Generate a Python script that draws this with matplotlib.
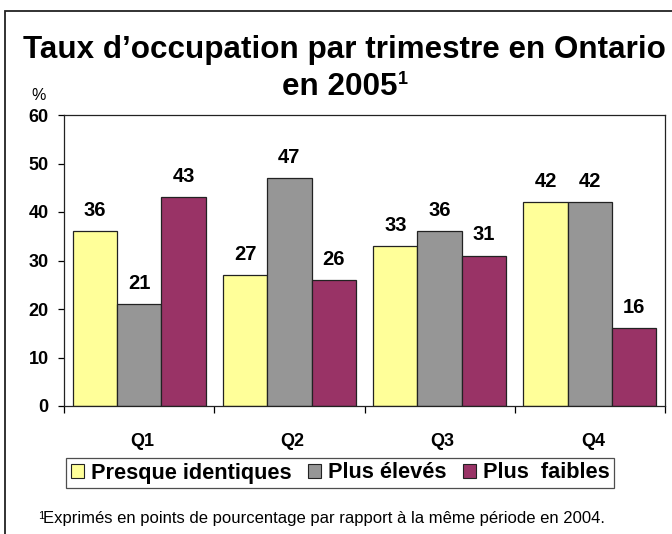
import matplotlib
matplotlib.use("Agg")
import matplotlib.pyplot as plt
from matplotlib.patches import Rectangle
from matplotlib.transforms import blended_transform_factory
import numpy as np

plt.rcParams['font.family'] = ['Liberation Sans', 'DejaVu Sans']

categories = ["Q1", "Q2", "Q3", "Q4"]
series_names = ["Presque identiques", "Plus élevés", "Plus  faibles"]
presque = [36, 27, 33, 42]
eleves = [21, 47, 36, 42]
faibles = [43, 26, 31, 16]
colors = ["#FFFF99", "#969696", "#993366"]
y_ticks = [0, 10, 20, 30, 40, 50, 60]

W, H = 672, 534
fig = plt.figure(figsize=(W/100, H/100), dpi=100)

def fx(px):
    return px / W

def fy(py):
    return 1 - py / H

# outer border
fig.patches.append(Rectangle((fx(5), -0.2), 1.2, 1.2 - 11/H, transform=fig.transFigure,
                             fill=False, edgecolor='#222222', linewidth=1.3))

ax = fig.add_axes([fx(64), fy(406), (665-64)/W, (406-115)/H])
x = np.arange(len(categories))
bw = 0.295
for i, (vals, c) in enumerate(zip([presque, eleves, faibles], colors)):
    xs = x + (i-1)*bw
    ax.bar(xs, vals, bw, color=c, edgecolor='#222222', linewidth=0.9,
           label=series_names[i])
    for xi, v in zip(xs, vals):
        ax.annotate(str(v), (xi, v), xytext=(0, 11), textcoords='offset points',
                    ha='center', va='baseline', fontsize=14.5, fontweight='bold')

ax.set_xlim(-0.5, 3.5)
ax.set_ylim(0, 60)
ax.set_yticks(y_ticks)
ax.set_yticklabels([str(v) for v in y_ticks], fontsize=13, fontweight='bold')
ax.tick_params(axis='y', length=4.5, width=0.9, direction='out', pad=6.5)
ax.set_xticks([-0.5, 0.5, 1.5, 2.5, 3.5])
ax.set_xticklabels([])
ax.tick_params(axis='x', length=5, width=0.9, direction='out')
qtrans = blended_transform_factory(ax.transData, fig.transFigure)
for xi, c in zip(x, categories):
    ax.text(xi + 0.02, fy(441), c, transform=qtrans,
            ha='center', va='center', fontsize=13, fontweight='bold')
for s in ax.spines.values():
    s.set_linewidth(0.9)
    s.set_color('#222222')

fig.text(fx(344), fy(50), "Taux d\u2019occupation par trimestre en Ontario",
         ha='center', va='center', fontsize=22.6, fontweight='bold')
fig.text(fx(397), fy(87), "en 2005", ha='right', va='center', fontsize=22.6, fontweight='bold')
fig.text(fx(398), fy(80), "1", ha='left', va='center', fontsize=13, fontweight='bold')
fig.text(fx(39), fy(96), "%", ha='center', va='center', fontsize=11.5)

leg = fig.legend(loc='center', bbox_to_anchor=(fx(340), fy(473)), ncol=3,
                 prop={'size': 15.7, 'weight': 'bold'}, frameon=True, fancybox=False,
                 handlelength=0.62, handleheight=0.62, handletextpad=0.3, columnspacing=0.75,
                 borderpad=0.22, borderaxespad=0)
leg.get_frame().set_edgecolor('#222222')
leg.get_frame().set_linewidth(0.9)
for h in leg.legend_handles:
    h.set_linewidth(0.8)

fig.text(fx(38), fy(516), "1", ha='left', va='center', fontsize=8)
fig.text(fx(43), fy(519), "Exprimés en points de pourcentage par rapport à la même période en 2004.",
         ha='left', va='center', fontsize=12)

fig.savefig("out.png", dpi=100)
